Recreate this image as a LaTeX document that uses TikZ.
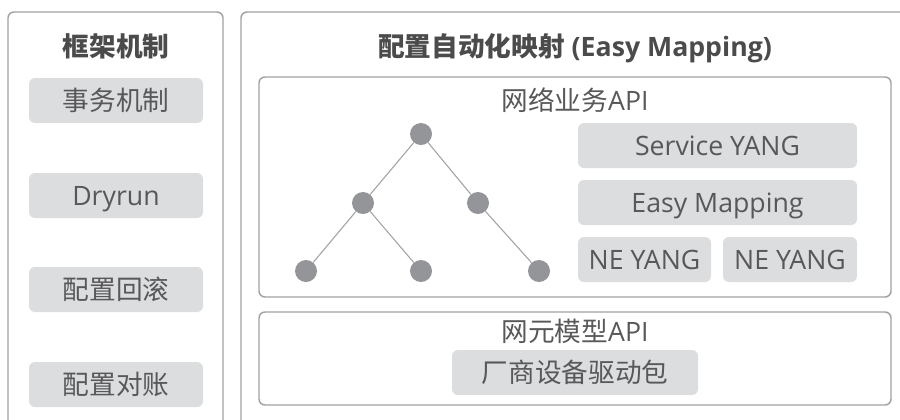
\documentclass[tikz,border=0pt]{standalone}
\usepackage{fontspec}
\setmainfont{Open Sans}
\newfontfamily\cjk{Noto Sans CJK SC}
\usepackage{xcolor}

\definecolor{linegray}{HTML}{A2A2A4}
\definecolor{boxgray}{HTML}{DCDDDF}
\definecolor{dotgray}{HTML}{939598}
\definecolor{textgray}{HTML}{58585A}

\tikzset{
	panel/.style = {draw = linegray, line width = 1.1pt, rounded corners = 4.5pt},
	label/.style = {text = textgray, font = \fontsize{20}{24}\selectfont, inner sep = 0pt, text height = 17.2pt, text depth = 2.8pt},
	head/.style = {label, text = textgray!85!black, font = \fontsize{20}{24}\selectfont\bfseries},
	item/.style = {label, fill = boxgray, rounded corners = 4.5pt, minimum height = 33.75pt},
	dot/.style = {circle, fill = dotgray, minimum size = 16.5pt, inner sep = 0pt},
	edge/.style = {draw = linegray, line width = 0.8pt}
}

\begin{document}
\begin{tikzpicture}[x = 0.75pt, y = -0.75pt]
			\useasboundingbox (0,0) rectangle (900,419);
			\clip (0,0) rectangle (900,419);

			\draw[panel] (8,12) rectangle (223,440);
			\draw[panel] (241,12) rectangle (920,440);
			\draw[panel] (259,77) rectangle (891,297);
			\draw[panel] (259,312) rectangle (891,405);

			\node[head] (frame) at (116,47) {\cjk\bfseries 框架机制};
			\node[head] (mapping) at (575,47) {{\cjk\bfseries 配置自动化映射} (Easy Mapping)};

			\node[item, minimum width = 130.5pt] (txn) at (116,100.5) {\cjk 事务机制};
			\node[item, minimum width = 130.5pt] (dryrun) at (116,195.5) {Dryrun};
			\node[item, minimum width = 130.5pt] (rollback) at (116,289.5) {\cjk 配置回滚};
			\node[item, minimum width = 130.5pt] (audit) at (116,384.5) {\cjk 配置对账};

			\node[label] (svcapi) at (575,101) {{\cjk 网络业务}API};
			\node[item, minimum width = 209.25pt] (svcyang) at (717.5,145.5) {Service YANG};
			\node[item, minimum width = 209.25pt] (easymap) at (717.5,202.5) {Easy Mapping};
			\node[item, minimum width = 99.75pt] (neyang1) at (644.5,259.5) {NE YANG};
			\node[item, minimum width = 100.5pt] (neyang2) at (790,259.5) {NE YANG};

			\node[dot] (root) at (421,134) {};
			\node[dot] (midl) at (363,203) {};
			\node[dot] (midr) at (478,203) {};
			\node[dot] (leaf1) at (306,271) {};
			\node[dot] (leaf2) at (421,271) {};
			\node[dot] (leaf3) at (539,271) {};

			\draw[edge]
				(root) -- (midl)
				(root) -- (midr)
				(midl) -- (leaf1)
				(midl) -- (leaf2)
				(midr) -- (leaf3);

			\node[label] (neapi) at (575,332) {{\cjk 网元模型}API};
			\node[item, minimum width = 184.5pt] (driver) at (575,372.5) {\cjk 厂商设备驱动包};
		\end{tikzpicture}
\end{document}
